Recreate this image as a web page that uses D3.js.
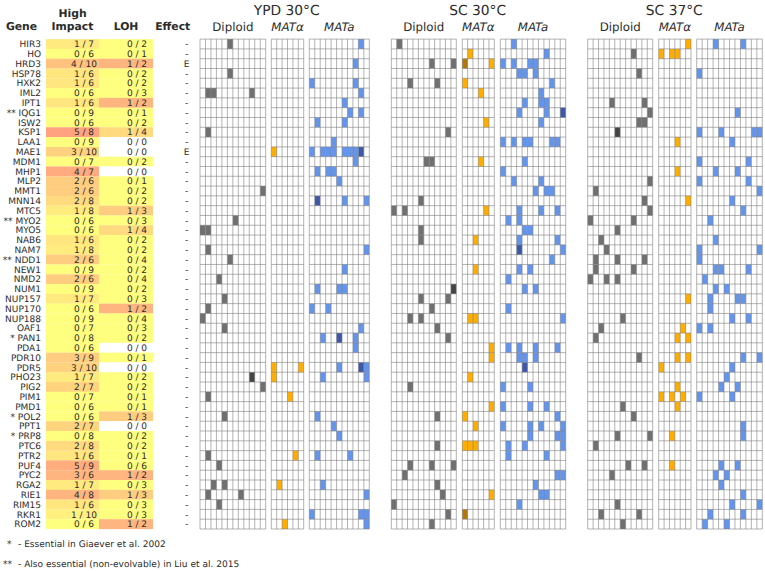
<!DOCTYPE html>
<html><head><meta charset="utf-8">
<script src="https://cdn.jsdelivr.net/npm/d3@7/dist/d3.min.js"></script>
<style>html,body{margin:0;padding:0;background:#fff}svg{display:block;text-rendering:geometricPrecision}text{font-family:"DejaVu Sans",sans-serif;fill:#2b2b2b}</style>
</head><body><svg id="c" width="765" height="571"></svg>
<script>
const genes=["HIR3","HO","HRD3","HSP78","HXK2","IML2","IPT1","IQG1","ISW2","KSP1","LAA1","MAE1","MDM1","MHP1","MLP2","MMT1","MNN14","MTC5","MYO2","MYO5","NAB6","NAM7","NDD1","NEW1","NMD2","NUM1","NUP157","NUP170","NUP188","OAF1","PAN1","PDA1","PDR10","PDR5","PHO23","PIG2","PIM1","PMD1","POL2","PPT1","PRP8","PTC6","PTR2","PUF4","PYC2","RGA2","RIE1","RIM15","RKR1","ROM2"];
const prefixes={IQG1:"**",MYO2:"**",NDD1:"**",PAN1:"*",POL2:"*",PRP8:"*"};
const highImpact=[[1,7],[0,6],[4,10],[1,6],[1,6],[0,6],[1,6],[0,9],[0,6],[5,8],[0,9],[3,10],[0,7],[4,7],[2,6],[2,6],[2,8],[1,8],[0,6],[0,6],[1,6],[1,8],[2,6],[0,9],[2,6],[0,9],[1,7],[0,6],[0,9],[0,7],[0,8],[0,6],[3,9],[3,10],[1,7],[2,7],[0,7],[0,6],[0,6],[2,7],[0,8],[2,8],[1,6],[5,9],[3,6],[1,7],[4,8],[1,6],[1,10],[0,6]];
const loh=[[0,2],[0,1],[1,2],[0,2],[0,2],[0,3],[1,2],[0,1],[0,2],[1,4],[0,0],[0,0],[0,2],[0,0],[0,1],[0,2],[0,2],[1,3],[0,3],[1,4],[0,2],[0,2],[0,4],[0,2],[0,4],[0,2],[0,3],[1,2],[0,4],[0,3],[0,2],[0,0],[0,1],[0,0],[0,2],[0,2],[0,1],[0,1],[1,3],[0,0],[0,2],[0,2],[0,1],[0,6],[1,2],[0,3],[1,3],[0,3],[0,3],[1,2]];
const essentialEffect=["HRD3","MAE1"];
// mutated populations: gene -> replicate columns; a second list holds the doubly hit (dark) cells
const ypdDiploid={HIR3:[5],HSP78:[5],IML2:[1,2,9],KSP1:[1],MMT1:[11],MYO2:[6],MYO5:[0,1],NAM7:[1],NDD1:[5],NMD2:[3],NUP157:[4],NUP170:[1],NUP188:[0],OAF1:[4],PHO23:[9],PIG2:[11],PIM1:[1],POL2:[4],PTR2:[1],PUF4:[3],RGA2:[2,4],RIE1:[1,7],RIM15:[3]};
const ypdDiploidDark={PHO23:[9]};
const ypdAlpha={MAE1:[0],PDR5:[0,5],PHO23:[0],PIM1:[3],PTR2:[4],RGA2:[1],ROM2:[2]};
const ypdA={HIR3:[9],HRD3:[8],HXK2:[0,8],IML2:[9],IPT1:[6],IQG1:[7,9],ISW2:[1,6],LAA1:[4],MAE1:[0,2,3,4,6,7,8,9],MDM1:[8],MHP1:[1,3,4],MLP2:[5],MNN14:[1,6,10],NAM7:[10],NEW1:[6],NUM1:[1,5,6],NUP170:[0,3],OAF1:[9],PAN1:[2,5,8],PDA1:[8],PDR5:[5,9,10],PHO23:[2,10],POL2:[1],PPT1:[4],PRP8:[5],PTR2:[1,7],RGA2:[2],RIE1:[10],RKR1:[0,9,10],ROM2:[10]};
const ypdADark={MAE1:[9],MNN14:[1],PAN1:[5],PDR5:[9]};
const sc30Diploid={HIR3:[1],HRD3:[7,11],HXK2:[3,8],KSP1:[10],MDM1:[6,7],MNN14:[5],MTC5:[0,2],MYO5:[5],NAB6:[5],NUM1:[11],NUP157:[5,10],NUP170:[7],NUP188:[3,5],OAF1:[8],PAN1:[10],PIG2:[3],POL2:[8],PTC6:[8],PUF4:[3,7,11],PYC2:[2],RGA2:[8],RIE1:[9],RIM15:[0],RKR1:[10],ROM2:[7]};
const sc30DiploidDark={NUM1:[11]};
const sc30Alpha={HO:[1],HRD3:[0,5],HXK2:[0],IML2:[3],ISW2:[4],MDM1:[3],MTC5:[4],NAB6:[2],NEW1:[2],NUP188:[1,2],PDA1:[5],PDR10:[5],PHO23:[1],PMD1:[5],POL2:[0],PPT1:[2],PTC6:[0,1,2],RIE1:[5],RKR1:[0]};
const sc30AlphaDark={HRD3:[0],RKR1:[0]};
const sc30A={HIR3:[2],HO:[8],HRD3:[0,2,5,6],HSP78:[3,4,6],HXK2:[9],IML2:[7],IPT1:[4,7,8],IQG1:[3,8,11],ISW2:[7],LAA1:[0,2,4,5,9,10],MDM1:[4],MHP1:[0],MLP2:[2,7],MMT1:[6,8,9],MTC5:[3,7,10],MYO2:[1,3],MYO5:[4,5],NAB6:[3,10],NAM7:[3,11],NDD1:[9],NEW1:[3,5],NMD2:[1],NUM1:[4,6],NUP170:[1],NUP188:[11],PDA1:[1,3,6,10],PDR10:[3,4,6],PDR5:[4],PIG2:[0,5],PMD1:[0,5,8],POL2:[10],PPT1:[0,5,7,11],PRP8:[5,10,11],PTC6:[1,4,11],PTR2:[1,8],PYC2:[10,11],RGA2:[6],RIE1:[7,8],RIM15:[3]};
const sc30ADark={IQG1:[11],NAM7:[3],PDR5:[4]};
const sc37Diploid={HO:[8],HSP78:[9],IPT1:[4,10],IQG1:[11],ISW2:[9,10],KSP1:[5],MLP2:[11],MMT1:[1],MNN14:[10],MTC5:[11],MYO2:[0,8],MYO5:[5],NAB6:[2],NAM7:[3],NDD1:[1,5,10],NEW1:[1,8],NMD2:[0,3,5],NUP188:[6],OAF1:[2],PAN1:[1],PDR10:[9],PMD1:[6],POL2:[8],PRP8:[5,11],PTC6:[1],PUF4:[7,10],PYC2:[4],RIM15:[5],RKR1:[2,9],ROM2:[6]};
const sc37DiploidDark={KSP1:[5]};
const sc37Alpha={HIR3:[5],HO:[0,2,3],LAA1:[3],MHP1:[3],MNN14:[5],NUP157:[5],OAF1:[4],PAN1:[3,5],PDR10:[3,5],PDR5:[0],PIG2:[3],PIM1:[0,2,4],PMD1:[3],PRP8:[2],PUF4:[2]};
const sc37A={HIR3:[3,8],HSP78:[0],IQG1:[7],KSP1:[0,4,10,11],LAA1:[6],MDM1:[0,9],MHP1:[3,7],MLP2:[0,9],MMT1:[11],MNN14:[6],MTC5:[8],MYO2:[2],NAB6:[3],NAM7:[0,11],NDD1:[0],NEW1:[3,4,9],NMD2:[1],NUM1:[3,5],NUP157:[2,7,8],NUP170:[2],NUP188:[6,9],OAF1:[0,2],PDR10:[8,11],PDR5:[6],PHO23:[5],PIG2:[4,7],PIM1:[0,6],PPT1:[8],PRP8:[8],PUF4:[4,7],PYC2:[3,5],RGA2:[4],RIE1:[8],RIM15:[6,11],RKR1:[2,8],ROM2:[1,5]};
const conditions=[
 {title:"YPD 30°C",cx:286.7,panels:[
  {label:"Diploid",x0:200,x1:265.7,n:12,cells:ypdDiploid,dark:ypdDiploidDark,kind:"dip"},
  {label:"MATα",x0:271.3,x1:303.7,n:6,cells:ypdAlpha,dark:{},kind:"alpha"},
  {label:"MATa",x0:309.3,x1:369.3,n:11,cells:ypdA,dark:ypdADark,kind:"a"}]},
 {title:"SC 30°C",cx:477.7,panels:[
  {label:"Diploid",x0:391.3,x1:456.3,n:12,cells:sc30Diploid,dark:sc30DiploidDark,kind:"dip"},
  {label:"MATα",x0:462.3,x1:494.3,n:6,cells:sc30Alpha,dark:sc30AlphaDark,kind:"alpha"},
  {label:"MATa",x0:500.3,x1:565.7,n:12,cells:sc30A,dark:sc30ADark,kind:"a"}]},
 {title:"SC 37°C",cx:674.3,panels:[
  {label:"Diploid",x0:587.7,x1:652.7,n:12,cells:sc37Diploid,dark:sc37DiploidDark,kind:"dip"},
  {label:"MATα",x0:658.7,x1:691,n:6,cells:sc37Alpha,dark:{},kind:"alpha"},
  {label:"MATa",x0:696.7,x1:762.3,n:12,cells:sc37A,dark:{},kind:"a"}]}
];
const colors={dip:["#707072","#444446"],alpha:["#ffae00","#b0780c"],a:["#6495ed","#3d58a8"]};

const svg=d3.select("#c");
const y=d3.scaleBand().domain(genes).range([39.1,529]);
const ratioColor=d3.scaleLinear().domain([0,1]).range(["#ffff7f","#ff6a7f"]);
const fs=9;
const fill=d=>d[1]===0?"#fff":ratioColor(d[0]/d[1]);
const columns=[{vals:highImpact,x:46,w:53,tx:84},{vals:loh,x:99,w:54,tx:137}];
columns.forEach(c=>{
  svg.append("g").selectAll("rect").data(c.vals).join("rect")
    .attr("x",c.x).attr("width",c.w).attr("y",(d,i)=>y(genes[i])).attr("height",y.bandwidth()+.1).attr("fill",fill);
  svg.append("g").selectAll("text").data(c.vals).join("text")
    .attr("x",c.tx).attr("y",(d,i)=>y(genes[i])+y.bandwidth()/2+3.3).attr("text-anchor","middle").attr("font-size",fs)
    .text(d=>`${d[0]} / ${d[1]}`);
});
// gene axis
const ax=svg.append("g").attr("transform","translate(41,0)")
  .call(d3.axisLeft(y).tickSize(0).tickPadding(0).tickFormat(g=>(prefixes[g]?prefixes[g]+" ":"")+g));
ax.select(".domain").remove();
ax.selectAll("text").attr("font-size",fs).attr("font-family",'"DejaVu Sans"').attr("dy","0.36em");
// effect
svg.append("g").selectAll("text").data(genes).join("text")
  .attr("x",186.5).attr("y",g=>y(g)+y.bandwidth()/2+3.3).attr("text-anchor","middle").attr("font-size",fs)
  .text(g=>essentialEffect.includes(g)?"E":"-");
// headers
const hdr=[["Gene",21.5,29.5],["High",72.5,17],["Impact",72.5,29.5],["LOH",126,29.5],["Effect",172.7,29.5]];
svg.append("g").selectAll("text").data(hdr).join("text")
  .attr("x",d=>d[1]).attr("y",d=>d[2]).attr("text-anchor","middle").attr("font-size",10.8).attr("font-weight","bold").text(d=>d[0]);
// panels
conditions.forEach(cond=>{
  svg.append("text").attr("x",cond.cx).attr("y",14.5).attr("text-anchor","middle").attr("font-size",13.8).text(cond.title);
  cond.panels.forEach(p=>{
    const x=d3.scaleBand().domain(d3.range(p.n)).range([p.x0,p.x1]);
    const g=svg.append("g");
    const items=[];
    Object.entries(p.cells).forEach(([gene,cols])=>cols.forEach(col=>items.push({gene,col,dark:(p.dark[gene]||[]).includes(col)})));
    g.selectAll("rect").data(items).join("rect")
      .attr("x",d=>x(d.col)).attr("y",d=>y(d.gene)).attr("width",x.bandwidth()).attr("height",y.bandwidth())
      .attr("fill",d=>colors[p.kind][d.dark?1:0]);
    const xs=d3.range(p.n+1).map(i=>p.x0+i*x.step());
    const ys=d3.range(genes.length+1).map(i=>y.range()[0]+i*y.step());
    g.selectAll("line.v").data(xs).join("line").attr("class","v")
      .attr("x1",d=>d).attr("x2",d=>d).attr("y1",y.range()[0]).attr("y2",y.range()[1]);
    g.selectAll("line.h").data(ys).join("line").attr("class","h")
      .attr("x1",p.x0).attr("x2",p.x1).attr("y1",d=>d).attr("y2",d=>d);
    g.selectAll("line").attr("stroke","#808080").attr("stroke-opacity",.75).attr("stroke-width",.8);
    svg.append("text").attr("x",(p.x0+p.x1)/2).attr("y",30.7).attr("text-anchor","middle").attr("font-size",11.8)
      .attr("font-style",p.kind==="dip"?"normal":"italic").text(p.label);
  });
});
// footnotes
const notes=[["*",7,"- Essential in Giaever et al. 2002",546.5],["**",3,"- Also essential (non-evolvable) in Liu et al. 2015",566.5]];
notes.forEach(n=>{
  svg.append("text").attr("x",n[1]).attr("y",n[3]).attr("font-size",9).text(n[0]);
  svg.append("text").attr("x",18).attr("y",n[3]).attr("font-size",9.05).text(n[2]);
});
</script></body></html>
